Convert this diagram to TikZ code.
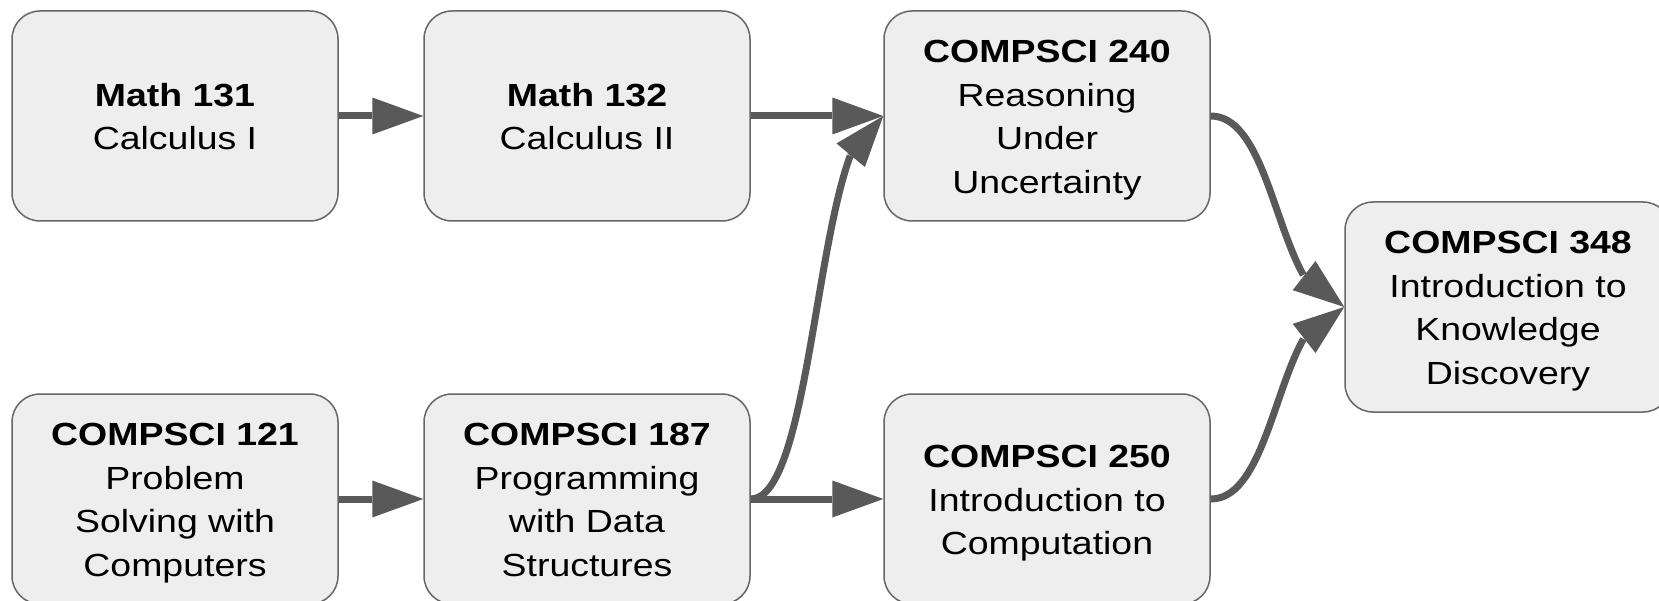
\documentclass[tikz,border=0pt]{standalone}
\usepackage{fontspec}
\setmainfont{Liberation Sans}[FakeStretch=1.17]
\usetikzlibrary{arrows.meta,bending,calc}
\definecolor{boxfill}{HTML}{EEEEEE}
\definecolor{boxline}{HTML}{666666}
\definecolor{linkcol}{HTML}{595959}
% line strut: fixes every text line to the same height and depth
\newcommand\lnstrut{\rule[-9.75pt]{0pt}{43.5pt}}
\begin{document}
\begin{tikzpicture}[x=1pt,y=-1pt,
  course/.style={draw=boxline, line width=1.5pt, fill=boxfill,
    rounded corners=28pt, minimum width=326pt, minimum height=210pt,
    inner sep=0pt, align=center, text=black,
    font=\fontsize{32}{43.5}\selectfont},
  linkline/.style={draw=linkcol, line width=7pt},
  link/.style={linkline,
    -{Triangle[length=51pt,width=37pt,line width=0pt,flex]}}]
  \useasboundingbox (0,0) rectangle (1659,601);
  \clip (0,0) rectangle (1659,601);
  \fill[white] (0,0) rectangle (1659,601);

  % top row
  \node[course] (m131) at (175,116) {\textbf{Math 131}\lnstrut\\Calculus I\lnstrut};
  \node[course] (m132) at (587,116) {\textbf{Math 132}\lnstrut\\Calculus II\lnstrut};
  \node[course] (cs240) at (1047,116) {\textbf{COMPSCI 240}\lnstrut\\Reasoning\lnstrut\\Under\lnstrut\\Uncertainty\lnstrut};

  % bottom row
  \node[course] (cs121) at (175,499) {\textbf{COMPSCI 121}\lnstrut\\Problem\lnstrut\\Solving with\lnstrut\\Computers\lnstrut};
  \node[course] (cs187) at (587,499) {\textbf{COMPSCI 187}\lnstrut\\Programming\lnstrut\\with Data\lnstrut\\Structures\lnstrut};
  \node[course] (cs250) at (1047,499) {\textbf{COMPSCI 250}\lnstrut\\Introduction to\lnstrut\\Computation\lnstrut};

  % final course
  \node[course] (cs348) at (1508,307) {\textbf{COMPSCI 348}\lnstrut\\Introduction to\lnstrut\\Knowledge\lnstrut\\Discovery\lnstrut};

  % straight prerequisites
  \draw[link] (m131) -- (m132);
  \draw[link] (m132) -- (cs240);
  \draw[link] (cs121) -- (cs187);
  \draw[link] (cs187) -- (cs250);

  % steep curve 187 -> 240: split at t=0.8 (de Casteljau) so the
  % stroke meets the back of the arrow head
  \coordinate (p0) at (cs187.east);
  \coordinate (p3) at (cs240.west);
  \coordinate (p1) at ($(p0)+(67,0)$);
  \coordinate (p2) at ($(p3)+(-67,0)$);
  \coordinate (qa) at ($(p0)!0.8!(p1)$);
  \coordinate (qb) at ($(p1)!0.8!(p2)$);
  \coordinate (qc) at ($(p2)!0.8!(p3)$);
  \coordinate (qd) at ($(qa)!0.8!(qb)$);
  \coordinate (qe) at ($(qb)!0.8!(qc)$);
  \coordinate (qf) at ($(qd)!0.8!(qe)$);
  \draw[linkline] (p0) .. controls (qa) and (qd) .. (qf);
  \draw[link] (qf) -- (p3);

  % curves into 348
  \draw[link] (cs240.east) .. controls +(67,0) and +(-67,0) .. (cs348.west);
  \draw[link] (cs250.east) .. controls +(67,0) and +(-67,0) .. (cs348.west);
\end{tikzpicture}
\end{document}
